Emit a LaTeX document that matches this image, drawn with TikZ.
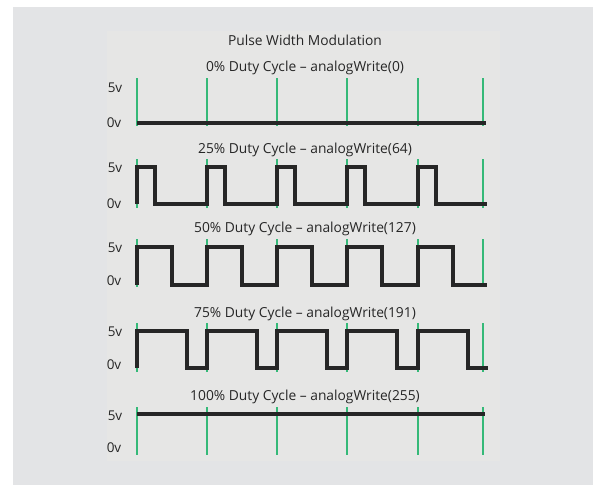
\documentclass[tikz,border=0pt]{standalone}
\usepackage{fontspec}
\setmainfont{Open Sans}
\definecolor{outerbg}{HTML}{E3E4E6}
\definecolor{innerbg}{HTML}{E6E6E5}
\definecolor{tick}{HTML}{35B978}
\definecolor{wave}{HTML}{262626}
\begin{document}
\begin{tikzpicture}[x=1pt,y=-1pt,
  lbl/.style={font=\fontsize{13.5}{16}\selectfont, text=black!85, inner sep=0pt, anchor=center},
  ttl/.style={font=\fontsize{13.8}{16}\selectfont, text=black!85, inner sep=0pt, anchor=center},
  tickline/.style={draw=tick, line width=1.5pt},
  waveline/.style={draw=wave, line width=3.2pt, line join=miter, line cap=butt}]
\useasboundingbox (0,0) rectangle (598,485);
\fill[white] (0,0) rectangle (598,485);
\fill[outerbg] (13,7) rectangle (593,485);
\fill[innerbg] (107,31) rectangle (500,461);

\node[ttl] (title) at (305,40) {Pulse Width Modulation};

% row titles
\node[ttl] (t0)   at (305,68)  {0\% Duty Cycle – analogWrite(0)};
\node[ttl] (t25)  at (305,150) {25\% Duty Cycle – analogWrite(64)};
\node[ttl] (t50)  at (305,229) {50\% Duty Cycle – analogWrite(127)};
\node[ttl] (t75)  at (305,314) {75\% Duty Cycle – analogWrite(191)};
\node[ttl] (t100) at (305,397) {100\% Duty Cycle – analogWrite(255)};

% labels
\node[lbl] (a5) at (115,88)  {5v};  \node[lbl] (a0) at (114,123) {0v};
\node[lbl] (b5) at (115,168) {5v};  \node[lbl] (b0) at (114,204) {0v};
\node[lbl] (c5) at (115,248) {5v};  \node[lbl] (c0) at (114,281) {0v};
\node[lbl] (d5) at (115,332) {5v};  \node[lbl] (d0) at (114,365) {0v};
\node[lbl] (e5) at (115,416) {5v};  \node[lbl] (e0) at (114,448) {0v};

% green period ticks
\foreach \yt/\yb in {78/126,159/208,239/287,323/372,407/455}{
  \foreach \x in {137,207,277,347,418,483}{
    \draw[tickline] (\x,\yt) -- (\x,\yb);
  }
}

% 0%
\draw[waveline] (137,123) -- (486,123);
% 25%
\draw[waveline] (137,204)
  \foreach \x in {137,207,277,347,418}{ -- (\x,204) -- (\x,167) -- (\x+18,167) -- (\x+18,204) }
  -- (487,204);
% 50%
\draw[waveline] (137,285)
  \foreach \x in {137,207,277,347,418}{ -- (\x,285) -- (\x,247) -- (\x+35,247) -- (\x+35,285) }
  -- (487,285);
% 75%
\draw[waveline] (137,368)
  \foreach \x in {137,207,277,347,418}{ -- (\x,368) -- (\x,331) -- (\x+50,331) -- (\x+50,368) }
  -- (488,368);
% 100%
\draw[waveline] (137,414) -- (485,414);
\end{tikzpicture}
\end{document}
